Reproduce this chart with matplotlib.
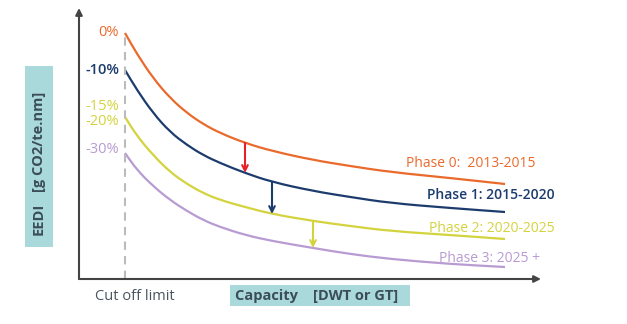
import matplotlib.pyplot as plt
import numpy as np
from matplotlib.patches import Rectangle, PathPatch
from matplotlib.path import Path

plt.rcParams['font.family'] = ['Open Sans', 'DejaVu Sans']

# capacity positions (arbitrary units) and EEDI reference lines per phase
capacity = np.array([0, 12, 28, 45, 62, 78, 95, 120, 147, 188, 225, 265, 325, 380]) + 46
eedi_phase0 = 279 - np.array([33, 54, 78, 98, 113, 124, 133, 143, 151, 160, 166, 172, 178, 184])
eedi_phase1 = 279 - np.array([70, 90, 113, 132, 145, 155, 163, 173, 182, 191, 197, 203, 208, 212])
eedi_phase2 = 279 - np.array([117, 136, 155, 172, 184, 193, 200, 207, 214, 221, 226, 231, 235, 239])
eedi_phase3 = 279 - np.array([153, 170, 186, 200, 211, 220, 227, 235, 241, 248, 254, 259, 264, 267])

cutoff = 46
phase_labels = ["Phase 0:  2013-2015", "Phase 1: 2015-2020", "Phase 2: 2020-2025", "Phase 3: 2025 +"]
phase_colors = ["#ea6a2c", "#1d3c6e", "#d3d33e", "#b89bd2"]
arrow_colors = ["#e8202a", "#1d3c6e", "#d3d33e"]
arrow_x = [166, 193, 234]

pct_labels = ["0%", "-10%", "-15%", "-20%", "-30%"]
pct_y = [246, 209, 172, 157, 129]
pct_colors = ["#ea6a2c", "#1d3c6e", "#d3d33e", "#d3d33e", "#b89bd2"]


def smooth_path(x, y):
    # quadratic b-spline through the midpoints, using the points as controls
    pts = np.column_stack([x, y])
    verts = [pts[0], (pts[0] + pts[1]) / 2]
    codes = [Path.MOVETO, Path.LINETO]
    for i in range(1, len(pts) - 1):
        verts += [pts[i], (pts[i] + pts[i + 1]) / 2]
        codes += [Path.CURVE3, Path.CURVE3]
    verts.append(pts[-1])
    codes.append(Path.LINETO)
    return Path(verts, codes)


fig = plt.figure(figsize=(6.27, 3.24), dpi=100)
ax = fig.add_axes([79 / 627, 45 / 324, 462 / 627, 271 / 324])
ax.set_xlim(0, 462)
ax.set_ylim(0, 271)
for s in ax.spines.values():
    s.set_visible(False)
ax.set_xticks([])
ax.set_yticks([])

# axes with arrow heads
ax.annotate("", xy=(0, 1), xytext=(0, 0), xycoords='axes fraction',
            arrowprops=dict(arrowstyle='-|>', color='#444444', lw=1.5,
                            mutation_scale=10, shrinkA=0, shrinkB=0))
ax.annotate("", xy=(1, 0), xytext=(0, 0), xycoords='axes fraction',
            arrowprops=dict(arrowstyle='-|>', color='#444444', lw=1.5,
                            mutation_scale=10, shrinkA=0, shrinkB=0))

# cut off limit
ax.plot([cutoff, cutoff], [0, eedi_phase0[0]], color='#bbbbbb', lw=1.5, ls=(0, (4, 3)))

curves = [eedi_phase0, eedi_phase1, eedi_phase2, eedi_phase3]
for c, col in zip(curves, phase_colors):
    ax.add_patch(PathPatch(smooth_path(capacity, c), facecolor='none', edgecolor=col, lw=1.6))

# reduction arrows between phases
for i, (xa, col) in enumerate(zip(arrow_x, arrow_colors)):
    y0 = np.interp(xa, capacity, curves[i])
    y1 = np.interp(xa, capacity, curves[i + 1])
    ax.annotate("", xy=(xa, y1), xytext=(xa, y0),
                arrowprops=dict(arrowstyle='->', color=col, lw=1.5,
                                mutation_scale=10, shrinkA=0, shrinkB=0))

for lab, y, col in zip(pct_labels, pct_y, pct_colors):
    ax.text(cutoff - 6, y, lab, color=col, fontsize=10.5, ha='right', va='center',
            fontweight='semibold' if lab == "-10%" else 'normal')

phase_pos = [(457, 115), (476, 84), (476, 51), (461, 20)]
for lab, (x, y), col in zip(phase_labels, phase_pos, phase_colors):
    ax.text(x, y, lab, color=col, fontsize=10, ha='right', va='center', clip_on=False,
            fontweight='semibold' if lab.startswith("Phase 1") else 'normal')

# axis titles on shaded boxes
ax.add_patch(Rectangle((-54, 32), 28, 181, facecolor='#aad9dc', edgecolor='none', clip_on=False))
ax.text(-40, 60, "EEDI", rotation=90, fontsize=10.5, fontweight='bold',
        color='#3b4d58', ha='center', va='center', clip_on=False)
ax.text(-40, 137, "[g CO2/te.nm]", rotation=90, fontsize=10.5, fontweight='bold',
        color='#3b4d58', ha='center', va='center', clip_on=False)
ax.add_patch(Rectangle((151, -27), 180, 21, facecolor='#aad9dc', edgecolor='none', clip_on=False))
ax.text(238, -17, "Capacity    [DWT or GT]", fontsize=10.5, fontweight='bold',
        color='#3b4d58', ha='center', va='center', clip_on=False)
ax.text(56, -17, "Cut off limit", fontsize=10.5, color='#4a5560', ha='center', va='center', clip_on=False)

fig.savefig("out.png", dpi=100)
